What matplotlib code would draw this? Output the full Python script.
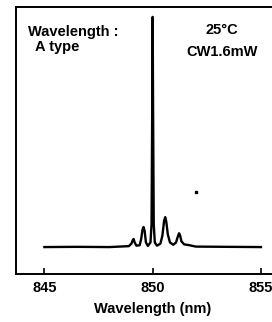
import matplotlib
matplotlib.use("Agg")
import matplotlib.pyplot as plt

# spectrum (wavelength nm, relative intensity)
wavelength = [845.0, 846.5, 848.0, 848.9, 849.02, 849.08, 849.12, 849.17, 849.25,
              849.4, 849.47, 849.53, 849.58, 849.63, 849.69, 849.78,
              849.9, 849.95, 849.98, 850.0, 850.02, 850.05, 850.1, 850.2,
              850.36, 850.45, 850.53, 850.58, 850.63, 850.7, 850.8, 850.95,
              851.08, 851.16, 851.22, 851.27, 851.33, 851.45, 851.7, 852.0,
              853.5, 855.0]
intensity = [0.0, 0.1, 0.0, 0.4, 1.5, 3.0, 3.5, 2.0, 0.6,
             0.8, 3.5, 7.5, 8.7, 7.0, 2.0, 0.5,
             2.0, 10.0, 60.0, 100.0, 60.0, 10.0, 2.0, 0.6,
             1.5, 5.0, 11.5, 13.0, 11.0, 5.5, 2.0, 1.0,
             2.0, 4.5, 6.0, 5.0, 2.5, 1.2, 0.8, 0.2,
             0.1, 0.0]
dot_x = [852.0]
dot_y = [24.0]

xticks = [845, 850, 855]

plt.rcParams['font.family'] = ['Liberation Sans', 'DejaVu Sans']

fig = plt.figure(figsize=(2.72, 3.22), dpi=100)
ax = fig.add_axes([16 / 272, 48 / 322, 259 / 272, 267 / 322])

ax.plot(wavelength, intensity, color='black', lw=1.7)
ax.plot(dot_x, dot_y, 's', color='black', ms=1.5)

ax.set_xlim(843.69, 855.65)
ax.set_ylim(-11.7, 104.3)
ax.set_xticks(xticks)
ax.set_yticks([])
ax.tick_params(axis='x', direction='in', length=4, width=1.2, labelsize=10.5, pad=5)
for lbl in ax.get_xticklabels():
    lbl.set_fontweight('bold')
for s in ax.spines.values():
    s.set_linewidth(1.4)

ax.set_xlabel("Wavelength (nm)", fontsize=10.5, fontweight='bold')
ax.xaxis.set_label_coords((850 - 843.69) / (855.65 - 843.69), -0.105)

ax.text(0.046, 0.905, "Wavelength :", transform=ax.transAxes, fontsize=10.5,
        fontweight='bold', va='center', ha='left')
ax.text(0.072, 0.85, "A type", transform=ax.transAxes, fontsize=10.5,
        fontweight='bold', va='center', ha='left')
ax.text(0.795, 0.915, "25°C", transform=ax.transAxes, fontsize=10.5,
        fontweight='bold', va='center', ha='center')
ax.text(0.795, 0.83, "CW1.6mW", transform=ax.transAxes, fontsize=10.5,
        fontweight='bold', va='center', ha='center')

fig.savefig("out.png", dpi=100)
